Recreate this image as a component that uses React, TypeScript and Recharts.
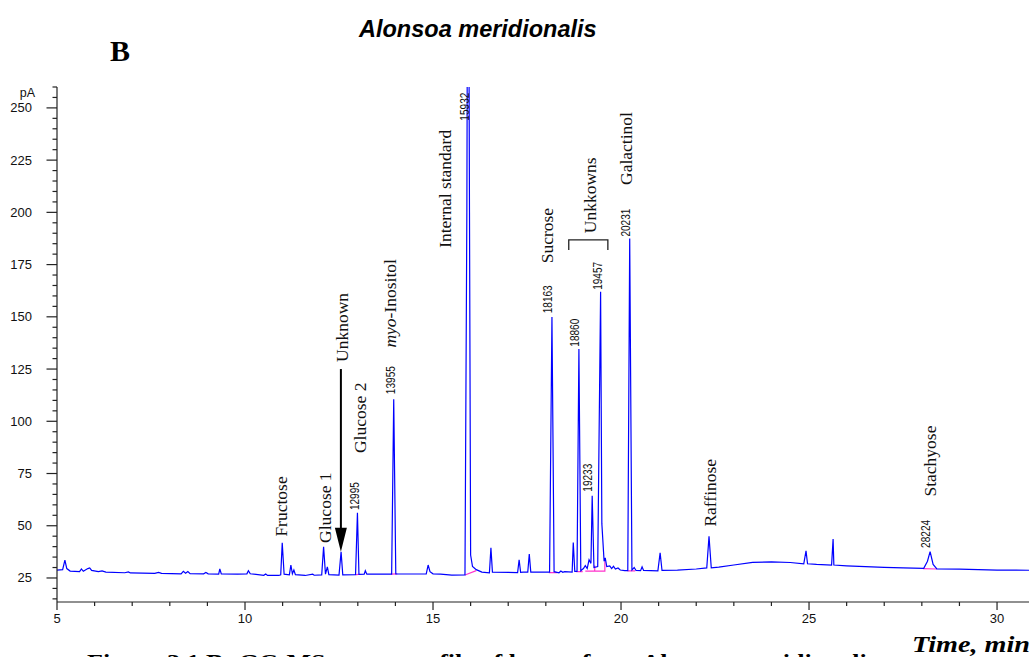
import React from "react"
import { LineChart, Line, XAxis, YAxis, ReferenceDot } from "recharts"

// chromatogram trace (time in min, signal in pA)
const traceTime = [
  5.0, 5.15, 5.21, 5.26, 5.35, 5.6, 5.65, 5.7, 5.82, 5.87, 5.92, 6.1, 6.2, 6.3, 6.8, 6.9, 6.95,
  7.6, 7.7, 7.78, 8.3, 8.36, 8.42, 8.48, 8.54, 8.9, 8.96, 9.02, 9.3, 9.33, 9.37, 9.8, 10.05, 10.09,
  10.14, 10.5, 10.55, 10.6, 10.9, 10.95, 10.99, 11.04, 11.18, 11.22, 11.26, 11.3, 11.34, 11.6, 11.8,
  11.84, 12.04, 12.09, 12.14, 12.19, 12.23, 12.5, 12.555, 12.6, 12.94, 12.99, 13.03, 13.17, 13.2,
  13.24, 13.9, 13.955, 14.01, 14.2, 14.82, 14.87, 14.92, 15.0, 15.2, 15.5, 15.85, 15.9, 15.932,
  15.97, 16.0, 16.05, 16.15, 16.3, 16.5, 16.54, 16.58, 17.25, 17.29, 17.33, 17.4, 17.52, 17.56,
  17.6, 18.1, 18.163, 18.22, 18.35, 18.4, 18.45, 18.5, 18.7, 18.73, 18.77, 18.83, 18.88, 18.93,
  19.0, 19.05, 19.1, 19.15, 19.2, 19.233, 19.28, 19.38, 19.457, 19.49, 19.55, 19.58, 19.62, 19.7,
  19.75, 19.8, 19.85, 19.92, 19.98, 20.1, 20.18, 20.231, 20.29, 20.35, 20.4, 20.52, 20.56, 20.6,
  20.98, 21.04, 21.09, 21.5, 22.0, 22.28, 22.34, 22.4, 22.6, 23.0, 23.5, 24.0, 24.5, 24.86, 24.92,
  24.96, 25.2, 25.6, 25.64, 25.66, 26.0, 26.5, 27.0, 27.5, 28.05, 28.15, 28.22, 28.3, 28.4, 29.0,
  29.5, 30.0, 30.85,
]
const tracePA = [
  28.8, 29.0, 33.5, 29.5, 28.3, 28.0, 29.3, 28.2, 29.5, 29.8, 28.6, 28.0, 28.4, 27.8, 27.5, 27.9, 27.4,
  27.2, 27.7, 27.2, 27.0, 28.2, 27.3, 28.1, 27.1, 27.0, 27.6, 27.0, 26.8, 29.3, 26.9, 26.8, 27.0, 28.5,
  27.0, 26.3, 26.9, 26.2, 26.2, 26.5, 41.8, 26.8, 26.5, 31.2, 27.0, 28.8, 26.6, 26.2, 26.8,
  26.3, 26.5, 39.9, 26.8, 30.3, 26.6, 26.4, 37.5, 26.5, 26.6, 56.2, 26.7, 26.8, 28.5,
  26.8, 26.8, 110.6, 27.0, 26.9, 27.0, 31.2, 28.0, 27.0, 26.8, 26.4, 26.5, 200, 420,
  200, 36, 30.5, 29, 27.8, 27.5, 39.4, 27.8, 27.6, 33.7, 27.7, 27.8, 27.8, 36.5,
  27.8, 27.8, 149.9, 28.0, 27.5, 28.3, 27.7, 28.0, 27.8, 42.0, 28.2, 28.2, 134.6, 28.5,
  29.5, 30.9, 29.5, 33.7, 32.0, 64.4, 30.0, 30.5, 162.0, 51.0, 33.0, 34.6, 30.5, 30.8,
  29.5, 30.6, 29.3, 29.8, 28.8, 28.5, 28.5, 187.5, 28.8, 30.0, 28.6, 28.5, 30.3, 28.6,
  28.4, 37.0, 28.6, 28.8, 29.3, 29.8, 44.9, 29.8, 30.2, 31.2, 32.5, 32.7, 32.4, 31.8, 38.0,
  31.8, 31.5, 31.2, 43.6, 31.2, 30.8, 30.4, 30.1, 29.8, 29.6, 33.0, 37.6, 31.5, 29.4, 29.2,
  29.0, 28.8, 28.7,
]

// integration baselines (null = gap)
const integTime = [
  12.95, 13.03, 13.03, 13.88, 14.05, 14.05, 15.85, 16.15, 16.15, 18.08, 18.3, 18.3, 18.8, 18.98,
  18.98, 19.05, 19.3, 19.3, 19.3, 19.57, 19.57, 19.57, 19.57, 20.17, 20.38, 20.38, 28.03, 28.4,
]
const integPA = [
  26.6, 26.7, null, 26.8, 27.0, null, 26.4, 28.5, null, 27.6, 27.6, null, 28.0, 28.0,
  null, 28.3, 28.3, 31.0, 28.3, 28.3, 33.0, 28.3, null, 28.4, 28.4, null, 29.5, 29.3,
]

// compound names
const compoundNames = ["Fructose", "Glucose 1", "Unknown", "Glucose 2", "myo-Inositol", "Internal standard", "Sucrose", "Unkkowns", "Galactinol", "Raffinose", "Stachyose"]
const compoundTime = [10.97, 12.12, 12.59, 13.07, 13.86, 15.33, 18.04, 19.18, 20.12, 22.36, 28.23]
const compoundPA = [44.8, 41.8, 128.4, 84.8, 135.3, 183, 175.6, 190, 213.1, 49.6, 64]

// retention time tags
const rtTags = ["12995", "13955", "15932", "18163", "18860", "19233", "19457", "20231", "28224"]
const rtTime = [12.92, 13.89, 15.84, 18.07, 18.78, 19.13, 19.39, 20.13, 28.12]
const rtPA = [57.5, 113, 243.9, 151.7, 135.7, 66.3, 162.9, 188.4, 39.4]

const arrowTime = [12.55, 12.55]
const arrowPA = [125, 48]
const bracketTime = [18.61, 18.61, 19.65, 19.65]
const bracketPA = [182, 186.8, 186.8, 182]

const xTicks = [5, 6, 7, 8, 9, 10, 11, 12, 13, 14, 15, 16, 17, 18, 19, 20, 21, 22, 23, 24, 25, 26, 27, 28, 29, 30]
const yTicks = [15, 20, 25, 30, 35, 40, 45, 50, 55, 60, 65, 70, 75, 80, 85, 90, 95, 100, 105, 110, 115, 120, 125, 130, 135, 140, 145, 150, 155, 160, 165, 170, 175, 180, 185, 190, 195, 200, 205, 210, 215, 220, 225, 230, 235, 240, 245, 250, 255, 260]

const SANS = "Liberation Sans, Arial, sans-serif"
const SERIF = "Liberation Serif, Times New Roman, serif"

const zip = (ts: number[], vs: (number | null)[]) => ts.map((t, i) => ({ t, v: vs[i] }))

const XTick = (props: any) => {
  const { x, y, payload } = props
  const major = payload.value % 5 === 0
  return (
    <g>
      <line x1={x} x2={x} y1={y} y2={y + (major ? 8 : 4)} stroke="#222" strokeWidth={1.2} />
      {major && (
        <text x={x} y={y + 21} textAnchor="middle" fontSize={13} fontFamily={SANS} fill="#111">
          {payload.value}
        </text>
      )}
    </g>
  )
}

const YTick = (props: any) => {
  const { x, y, payload } = props
  const major = payload.value % 25 === 0
  return (
    <g>
      <line x1={x} x2={x - (major ? 10.5 : 4.5)} y1={y} y2={y} stroke="#222" strokeWidth={1.2} />
      {major && (
        <text x={x - 25} y={y + 4.5} textAnchor="end" fontSize={13} fontFamily={SANS} fill="#111">
          {payload.value}
        </text>
      )}
    </g>
  )
}

export default function App() {
  const trace = zip(traceTime, tracePA)
  const integ = zip(integTime, integPA)
  const arrow = zip(arrowTime, arrowPA)
  const bracket = zip(bracketTime, bracketPA)

  return (
    <div style={{ position: "absolute", left: 0, top: 0, width: 1034, height: 657, background: "#fff" }}>
      <LineChart width={1034} height={657} data={trace} margin={{ top: 87, right: 5, bottom: 0, left: 0 }}>
        <XAxis
          dataKey="t"
          type="number"
          domain={[5, 30.85]}
          allowDataOverflow
          ticks={xTicks}
          interval={0}
          height={55}
          tickSize={0}
          tickMargin={0}
          tickLine={false}
          tick={<XTick />}
          axisLine={{ stroke: "#222", strokeWidth: 1.2 }}
        />
        <YAxis
          type="number"
          domain={[13.5, 260]}
          allowDataOverflow
          ticks={yTicks}
          interval={0}
          width={57}
          tickSize={0}
          tickMargin={0}
          tickLine={false}
          tick={<YTick />}
          axisLine={{ stroke: "#222", strokeWidth: 1.2 }}
        />
        <Line data={integ} dataKey="v" stroke="#ff33cc" strokeWidth={1.2} dot={false} isAnimationActive={false} />
        <Line dataKey="v" stroke="#0000ff" strokeWidth={1.2} dot={false} isAnimationActive={false} />
        <Line data={arrow} dataKey="v" stroke="#000" strokeWidth={2} dot={false} isAnimationActive={false} />
        <Line data={bracket} dataKey="v" stroke="#222" strokeWidth={1.3} dot={false} isAnimationActive={false} />
        <ReferenceDot
          x={12.55}
          y={37.6}
          r={0}
          shape={(p: any) => (
            <polygon points={`${p.cx - 6},${p.cy - 24} ${p.cx + 6},${p.cy - 24} ${p.cx},${p.cy}`} fill="#000" />
          )}
        />
        {compoundNames.map((name, i) => (
          <ReferenceDot
            key={name}
            x={compoundTime[i]}
            y={compoundPA[i]}
            r={0}
            shape={(p: any) => (
              <text
                x={p.cx}
                y={p.cy}
                transform={`rotate(-90 ${p.cx} ${p.cy})`}
                dominantBaseline="central"
                fontSize={17.5}
                fontFamily={SERIF}
                fill="#111"
              >
                {name.startsWith("myo") ? (
                  <>
                    <tspan fontStyle="italic">myo</tspan>
                    <tspan>-Inositol</tspan>
                  </>
                ) : (
                  name
                )}
              </text>
            )}
          />
        ))}
        {rtTags.map((tag, i) => (
          <ReferenceDot
            key={tag}
            x={rtTime[i]}
            y={rtPA[i]}
            r={0}
            shape={(p: any) => (
              <text
                x={p.cx}
                y={p.cy}
                transform={`rotate(-90 ${p.cx} ${p.cy})`}
                dominantBaseline="central"
                fontSize={12}
                textLength={28}
                lengthAdjust="spacingAndGlyphs"
                fontFamily={SANS}
                fill="#111"
              >
                {tag}
              </text>
            )}
          />
        ))}
      </LineChart>
      <svg width={1034} height={657} style={{ position: "absolute", left: 0, top: 0, pointerEvents: "none" }}>
        <text x={359} y={37} fontSize={23.5} fontWeight="bold" fontStyle="italic" fontFamily={SANS} fill="#000">
          Alonsoa meridionalis
        </text>
        <text x={110} y={61} fontSize={30} fontWeight="bold" fontFamily={SERIF} fill="#000">
          B
        </text>
        <text x={35} y={97} textAnchor="end" fontSize={12.5} fontFamily={SANS} fill="#111">
          pA
        </text>
        <text x={912} y={652} fontSize={24} fontWeight="bold" fontStyle="italic" fontFamily={SERIF} textLength={118} lengthAdjust="spacingAndGlyphs" fill="#000">
          Time, min
        </text>
        <text x={87} y={669} fontSize={22} fontWeight="bold" fontFamily={SERIF} textLength={790} lengthAdjust="spacingAndGlyphs" fill="#000">
          Figure 3.1 B: GC-MS sugar profile of leaves from Alonsoa meridionalis
        </text>
      </svg>
    </div>
  )
}
